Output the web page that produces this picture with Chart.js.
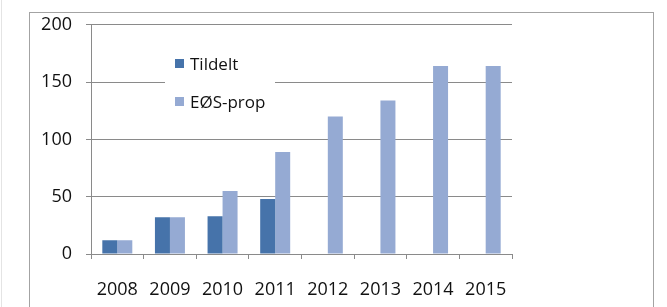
<!DOCTYPE html>
<html>
<head>
<meta charset="utf-8">
<script src="https://cdn.jsdelivr.net/npm/chart.js@4"></script>
<style>
html, body { margin: 0; padding: 0; background: #fff; }
#wrap { position: relative; width: 667px; height: 307px; overflow: hidden; }
#edge { position: absolute; left: 1px; top: 0; width: 1px; height: 307px; background: #e4e4e4; }
#frame { position: absolute; left: 29px; top: 12px; width: 623px; height: 320px; border: 1px solid #a3a3a3; }
canvas { position: absolute; left: 0; top: 0; }
</style>
</head>
<body>
<div id="wrap">
  <div id="edge"></div>
  <div id="frame"></div>
  <canvas id="chart" width="667" height="307"></canvas>
</div>
<script>
const years = ['2008', '2009', '2010', '2011', '2012', '2013', '2014', '2015'];
const tildelt = [12, 32, 33, 48, null, null, null, null];
const eosProp = [12, 32, 55, 89, 120, 134, 164, 164];
const yTicks = [0, 50, 100, 150, 200];

const gridGray = '#8a8a8a';
const textColor = '#111';
const fontFamily = '"Open Sans", sans-serif';

// Legend drawn inside the plot, on a white box (as in the original)
const insideLegend = {
    id: 'insideLegend',
    afterDraw(chart) {
        const ctx = chart.ctx;
        ctx.save();
        ctx.fillStyle = '#fff';
        ctx.fillRect(165, 47, 110, 70);
        ctx.font = '17px ' + fontFamily;
        ctx.textBaseline = 'middle';
        chart.data.datasets.forEach((ds, i) => {
            const y = 64 + i * 38;
            ctx.fillStyle = ds.backgroundColor;
            ctx.fillRect(175, y - 5, 9, 9);
            ctx.fillStyle = textColor;
            ctx.fillText(ds.label, 190, y + 1);
        });
        ctx.restore();
    }
};

new Chart(document.getElementById('chart').getContext('2d'), {
    type: 'bar',
    data: {
        labels: years,
        datasets: [
            { label: 'Tildelt', data: tildelt, backgroundColor: '#4673aa' },
            { label: 'EØS-prop', data: eosProp, backgroundColor: '#95aad3' }
        ]
    },
    options: {
        responsive: false,
        animation: false,
        layout: { padding: { top: 24, right: 155, left: 0, bottom: 0 } },
        categoryPercentage: 0.57,
        barPercentage: 1.0,
        plugins: { legend: { display: false }, tooltip: { enabled: false } },
        scales: {
            x: {
                grid: { display: true, drawOnChartArea: false, drawTicks: true, tickLength: 5, offset: true, color: gridGray },
                border: { color: gridGray },
                ticks: { color: textColor, font: { family: fontFamily, size: 18 }, padding: 20, maxRotation: 0 },
                afterFit(scale) { scale.height = 53; }
            },
            y: {
                min: 0,
                max: 200,
                afterBuildTicks(scale) { scale.ticks = yTicks.map(v => ({ value: v })); },
                grid: { color: gridGray, tickLength: 5 },
                border: { color: gridGray },
                ticks: { color: textColor, font: { family: fontFamily, size: 18 }, padding: 14 },
                afterFit(scale) { scale.width = 91; }
            }
        }
    },
    plugins: [insideLegend]
});
</script>
</body>
</html>
